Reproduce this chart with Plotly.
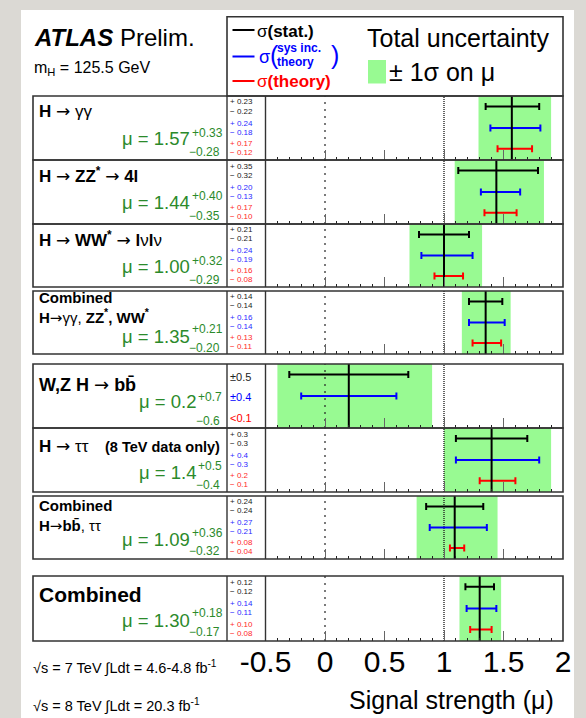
import plotly.graph_objects as go

W, H = 586, 718

ARROW = "<span style='font-family:DejaVu Sans;font-weight:normal'>→</span>"

# ---- measured signal strengths and their uncertainty breakdown ----
channel_titles = [
    f"<b>H</b> {ARROW} γγ",
    f"<b>H</b> {ARROW} <b>ZZ<sup>*</sup></b> {ARROW} <b>4l</b>",
    f"<b>H</b> {ARROW} <b>WW<sup>*</sup></b> {ARROW} <b>l</b>ν<b>l</b>ν",
    f"<b>Combined</b><br><b>H</b>{ARROW}γγ, <b>ZZ<sup>*</sup>, WW<sup>*</sup></b>",
    f"<b>W,Z H</b> {ARROW} <b>bb̄</b>",
    f"<b>H</b> {ARROW} ττ",
    f"<b>Combined</b><br><b>H</b>{ARROW}<b>bb̄</b>, ττ",
    "<b>Combined</b>",
]
channel_notes = [None, None, None, None, None, "<b>(8 TeV data only)</b>", None, None]
mu_values = [1.57, 1.44, 1.00, 1.35, 0.2, 1.4, 1.09, 1.30]
mu_decimals = [2, 2, 2, 2, 1, 1, 2, 2]
total_up = [0.33, 0.40, 0.32, 0.21, 0.7, 0.5, 0.36, 0.18]
total_down = [0.28, 0.35, 0.29, 0.20, 0.6, 0.4, 0.32, 0.17]
stat_up = [0.23, 0.35, 0.21, 0.14, 0.5, 0.3, 0.24, 0.12]
stat_down = [0.22, 0.32, 0.21, 0.14, 0.5, 0.3, 0.24, 0.12]
sys_up = [0.24, 0.20, 0.24, 0.16, 0.4, 0.4, 0.27, 0.14]
sys_down = [0.18, 0.13, 0.19, 0.14, 0.4, 0.3, 0.21, 0.11]
theory_up = [0.17, 0.17, 0.16, 0.13, None, 0.2, 0.08, 0.10]
theory_down = [0.12, 0.10, 0.08, 0.11, None, 0.1, 0.04, 0.08]
theory_limit = [None, None, None, None, 0.1, None, None, None]

tick_values = [-0.5, 0, 0.5, 1, 1.5, 2]
tick_text = ["-0.5", "0", "0.5", "1", "1.5", "2"]
minor_tick_values = [-0.4, -0.3, -0.2, -0.1, 0.1, 0.2, 0.3, 0.4, 0.6, 0.7, 0.8, 0.9,
                     1.1, 1.2, 1.3, 1.4, 1.6, 1.7, 1.8, 1.9]

# ---- page geometry (pixels) ----
row_top = [96, 160, 224, 291, 364, 428, 496, 576]
row_bot = [160, 224, 287, 354, 428, 492, 559, 641]
title_size = [17, 17, 17, 15, 18, 17, 15, 21]
title_off = [15, 15, 15, 17.5, 20.5, 18, 19.5, 18]
main_off = [43, 43, 43, 45, 37.5, 44.5, 43, 44]
sup_off = [36.5, 36.5, 36.5, 38, 33, 38, 36.5, 37]
sub_off = [55.5, 55.5, 55.5, 57, 57, 56.5, 55, 56]
compact_numbers = [False, False, False, False, True, False, False, False]

BOX_L, SEP_X, PLOT_L, PLOT_R = 33, 227, 265.5, 563
FONT = "Liberation Sans, Arial, Helvetica, sans-serif"
GREEN_BAND = "#98fa92"
GREEN_TEXT = "#2b8a2b"
FRAME = "#333333"
BLUE, RED = "#0000ff", "#ff0000"


def px(x):
    return x / W


def py(y):
    return 1 - y / H


fig = go.Figure()
shapes, annotations = [], []


def text(x, y, s, size, color="black", xanchor="left", yanchor="middle"):
    annotations.append(dict(x=px(x), y=py(y), xref="paper", yref="paper", text=s,
                            showarrow=False, xanchor=xanchor, yanchor=yanchor,
                            align=xanchor if xanchor != "center" else "center",
                            font=dict(family=FONT, size=size, color=color),
                            borderpad=0))


def fmt(v, d):
    return f"{v:.{d}f}"


# white sheet behind the figure
shapes.append(dict(type="rect", xref="paper", yref="paper", x0=px(21), x1=px(574),
                   y0=py(718), y1=py(10), fillcolor="white", line_width=0, layer="below"))

bar_y = {"stat": 0.835, "sys": 0.5, "theory": 0.175}

for i in range(8):
    k = i + 1
    sfx = "" if k == 1 else str(k)
    xa, ya = "x" + sfx, "y" + sfx
    top, bot = row_top[i], row_bot[i]
    mu, d = mu_values[i], mu_decimals[i]

    fig.update_layout(**{
        "xaxis" + sfx: dict(
            domain=[px(PLOT_L), px(PLOT_R)], anchor=ya, range=[-0.5, 2],
            showgrid=False, zeroline=False, showline=False, fixedrange=True,
            automargin=False,
            ticks="inside", tickvals=tick_values, ticktext=tick_text, ticklen=10,
            tickwidth=1.3, tickcolor="#666666", showticklabels=(k == 8),
            tickfont=dict(family=FONT, size=30, color="black"),
            minor=dict(tickvals=minor_tick_values, ticks="inside", ticklen=3,
                       tickwidth=1, tickcolor="#222222"),
        ),
        "yaxis" + sfx: dict(
            domain=[py(bot), py(top)], anchor=xa, range=[0, 1], visible=False,
            fixedrange=True, automargin=False,
        ),
    })

    # total uncertainty band
    shapes.append(dict(type="rect", xref=xa, yref=ya, x0=mu - total_down[i],
                       x1=mu + total_up[i], y0=0, y1=1, fillcolor=GREEN_BAND,
                       line_width=0, layer="below"))

    # reference lines at mu = 0 and mu = 1
    fig.add_trace(go.Scatter(x=[0, 0], y=[0, 1], xaxis=xa, yaxis=ya, mode="lines",
                             line=dict(color="#222222", width=1.2, dash="2px,5px"),
                             hoverinfo="skip", showlegend=False))
    fig.add_trace(go.Scatter(x=[1, 1], y=[0, 1], xaxis=xa, yaxis=ya, mode="lines",
                             line=dict(color="#222222", width=1.4, dash="1px,1px"),
                             hoverinfo="skip", showlegend=False))

    # uncertainty components
    comps = [("stat", stat_up[i], stat_down[i], "black"),
             ("sys", sys_up[i], sys_down[i], BLUE),
             ("theory", theory_up[i], theory_down[i], RED)]
    for name, up, dn, col in comps:
        if up is None:
            continue
        fig.add_trace(go.Scatter(
            x=[mu], y=[bar_y[name]], xaxis=xa, yaxis=ya, mode="markers",
            marker=dict(size=1, color="rgba(0,0,0,0)"),
            error_x=dict(type="data", symmetric=False, array=[up], arrayminus=[dn],
                         color=col, thickness=2, width=3.5),
            hoverinfo="skip", showlegend=False))

    # best-fit value
    fig.add_trace(go.Scatter(x=[mu, mu], y=[0, 1], xaxis=xa, yaxis=ya, mode="lines",
                             line=dict(color="black", width=2), hoverinfo="skip",
                             showlegend=False))

    # frames
    shapes.append(dict(type="rect", xref="paper", yref="paper", x0=px(BOX_L),
                       x1=px(PLOT_R), y0=py(bot), y1=py(top),
                       line=dict(color=FRAME, width=1.6)))
    for sx in (SEP_X, PLOT_L):
        shapes.append(dict(type="line", xref="paper", yref="paper", x0=px(sx), x1=px(sx),
                           y0=py(bot), y1=py(top), line=dict(color=FRAME, width=1.4)))

    # channel title
    text(38, top + title_off[i], channel_titles[i], title_size[i])
    if channel_notes[i]:
        text(221, top + title_off[i] + 0.5, channel_notes[i], 14.5, "black", "right")

    # mu = value (+up, -down)
    right = 221
    main_right = 191 if d == 2 else 197
    text(main_right, top + main_off[i], f"μ = {fmt(mu, d)}", 18.5, GREEN_TEXT, "right")
    text(main_right, top + sup_off[i], f"+{fmt(total_up[i], d)}", 12, GREEN_TEXT, "left")
    text(right, top + sub_off[i], f"−{fmt(total_down[i], d)}", 12, GREEN_TEXT, "right")

    # numeric breakdown column
    h = bot - top
    if compact_numbers[i]:
        text(229, top + 12.7, f"±{fmt(stat_up[i], d)}", 11, "#222222")
        text(229, top + 33.3, f"±{fmt(sys_up[i], d)}", 11, BLUE)
        if theory_limit[i] is not None:
            text(229, top + 53.7, f"&lt;{fmt(theory_limit[i], d)}", 11, RED)
    else:
        rows = [(stat_up[i], stat_down[i], "#222222", 6, 15),
                (sys_up[i], sys_down[i], "#2a2aff", 27.3, 36.3),
                (theory_up[i], theory_down[i], "#ff2a2a", 47.3, 56.7)]
        for up, dn, col, o1, o2 in rows:
            text(229, top + o1 * h / 64, f"+ {fmt(up, d)}", 8, col)
            text(229, top + o2 * h / 64, f"− {fmt(dn, d)}", 8, col)

# ---- legend box ----
shapes.append(dict(type="rect", xref="paper", yref="paper", x0=px(SEP_X), x1=px(PLOT_R),
                   y0=py(96), y1=py(16.7), line=dict(color=FRAME, width=1.6)))
for yy, col in ((30, "black"), (56.5, BLUE), (81, RED)):
    shapes.append(dict(type="line", xref="paper", yref="paper", x0=px(232.5), x1=px(254.5),
                       y0=py(yy), y1=py(yy), line=dict(color=col, width=2)))
text(256, 31, "σ<b>(stat.)</b>", 17, "black")
text(258, 57, "σ", 18, BLUE)
text(268.5, 55, "(", 25, BLUE)
text(276, 48, "<b>sys inc.</b>", 12, BLUE)
text(276, 61.5, "<b>theory</b>", 12, BLUE)
text(330, 55, ")", 25, BLUE)
text(256, 81.5, "σ<b>(theory)</b>", 17, RED)
text(366, 38, "Total uncertainty", 25)
shapes.append(dict(type="rect", xref="paper", yref="paper", x0=px(368), x1=px(386),
                   y0=py(83.5), y1=py(60), fillcolor=GREEN_BAND, line_width=0))
text(388, 71.5, "± 1σ on μ", 25)

# ---- experiment labels ----
text(33, 37, "<b><i>ATLAS</i></b> Prelim.", 24)
text(33, 68, "m<sub>H</sub> = 125.5 GeV", 16)
text(32, 667, "√s = 7 TeV ∫Ldt = 4.6-4.8 fb<sup>-1</sup>", 14.5)
text(32, 705, "√s = 8 TeV ∫Ldt = 20.3 fb<sup>-1</sup>", 14.5)
text(555, 700, "Signal strength (μ)", 25, "black", "right")

fig.update_layout(
    width=W, height=H, margin=dict(l=0, r=0, t=0, b=0, autoexpand=False),
    paper_bgcolor="#dbd9d4", plot_bgcolor="white",
    shapes=shapes, annotations=annotations, showlegend=False,
    font=dict(family=FONT),
)

fig.write_html("out.html", config={"displayModeBar": False})
